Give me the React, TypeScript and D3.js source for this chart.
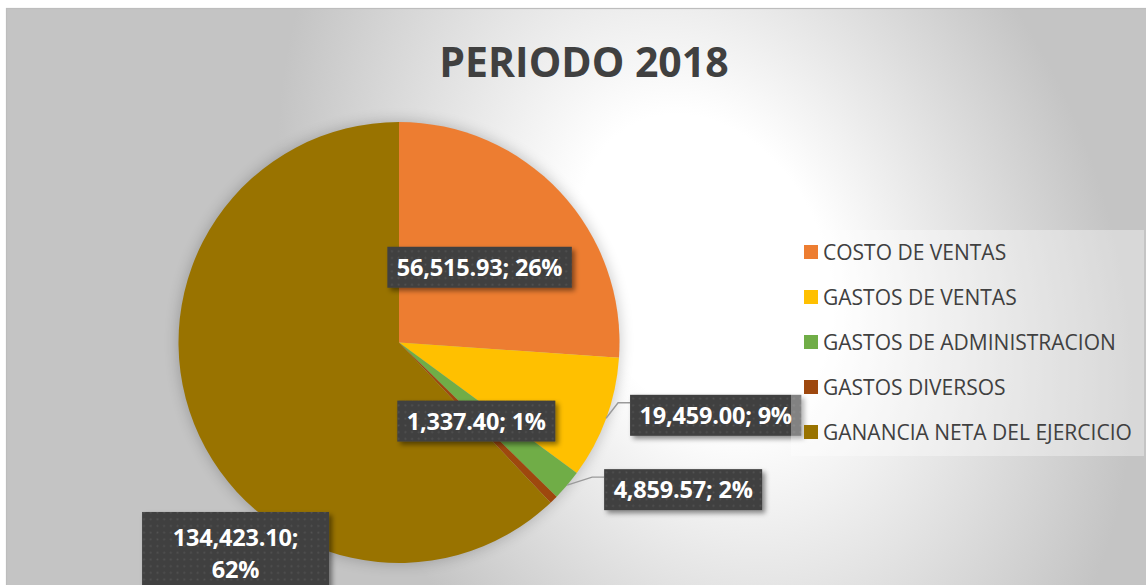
import React, { useEffect, useRef } from 'react';
import * as d3 from 'd3';

const categories = [
  'COSTO DE VENTAS',
  'GASTOS DE VENTAS',
  'GASTOS DE ADMINISTRACION',
  'GASTOS DIVERSOS',
  'GANANCIA NETA DEL EJERCICIO',
];
const values = [56515.93, 19459.0, 4859.57, 1337.4, 134423.1];
const colors = ['#ED7D31', '#FFC000', '#70AD47', '#9E480E', '#997300'];
const chartTitle = 'PERIODO 2018';

// label placement style per slice (Excel "best fit" result)
const labelPlacement: any[] = [
  { mode: 'inside', rf: 0.5 },
  { mode: 'outside', dx: 24, dy: -23.5 },
  { mode: 'outside', dx: 37, dy: -16 },
  { mode: 'inside', rf: 0.5 },
  { mode: 'wrapped', angle: 217.7, rf: 1.212, width: 187 },
];

const W = 1146;
const H = 585;
const CX = 399;
const CY = 342.5;
const R = 220.5;
const FONT = "'Open Sans', 'DejaVu Sans', sans-serif";

export default function App() {
  const ref = useRef<SVGSVGElement | null>(null);

  useEffect(() => {
    const svg = d3.select(ref.current);
    svg.selectAll('*').remove();
    const defs = svg.append('defs');

    const grad = defs
      .append('radialGradient')
      .attr('id', 'bg')
      .attr('gradientUnits', 'userSpaceOnUse')
      .attr('cx', 0)
      .attr('cy', 0)
      .attr('r', 1)
      .attr('gradientTransform', 'translate(705,270) rotate(65.5) scale(540,400)');
    grad.append('stop').attr('offset', 0).attr('stop-color', '#ffffff');
    grad.append('stop').attr('offset', 0.3).attr('stop-color', '#ffffff');
    grad.append('stop').attr('offset', 1).attr('stop-color', '#c4c4c4');

    const pat = defs
      .append('pattern')
      .attr('id', 'dots')
      .attr('patternUnits', 'userSpaceOnUse')
      .attr('width', 6.7)
      .attr('height', 6.7);
    pat.append('rect').attr('width', 6.7).attr('height', 6.7).attr('fill', '#404040');
    pat.append('rect').attr('x', 2.5).attr('y', 2.5).attr('width', 1.7).attr('height', 1.7).attr('fill', '#545454');

    const sh = defs.append('filter').attr('id', 'boxShadow').attr('x', '-20%').attr('y', '-30%').attr('width', '150%').attr('height', '180%');
    sh.append('feDropShadow').attr('dx', 3).attr('dy', 3).attr('stdDeviation', 2.5).attr('flood-color', '#000').attr('flood-opacity', 0.45);

    const halo = defs.append('filter').attr('id', 'halo').attr('x', '-20%').attr('y', '-20%').attr('width', '140%').attr('height', '140%');
    halo.append('feGaussianBlur').attr('stdDeviation', 7);

    // chart area
    svg.append('rect').attr('width', W).attr('height', H).attr('fill', '#ffffff');
    svg
      .append('rect')
      .attr('x', 6.5)
      .attr('y', 8.5)
      .attr('width', W + 10)
      .attr('height', H + 10)
      .attr('fill', 'url(#bg)')
      .attr('stroke', '#bdbdbd')
      .attr('stroke-width', 1.2);

    // title
    svg
      .append('text')
      .attr('x', 584)
      .attr('y', 77)
      .attr('text-anchor', 'middle')
      .attr('font-family', FONT)
      .attr('font-weight', 700)
      .attr('font-size', 41)
      .attr('fill', '#404040')
      .text(chartTitle);

    // pie
    const total = d3.sum(values);
    const pie = d3.pie<number>().sort(null).value((d) => d);
    const arcs = pie(values);
    const arc = d3.arc<d3.PieArcDatum<number>>().innerRadius(0).outerRadius(R);

    svg
      .append('circle')
      .attr('cx', CX)
      .attr('cy', CY)
      .attr('r', R + 1)
      .attr('fill', '#000')
      .attr('opacity', 0.2)
      .attr('filter', 'url(#halo)');

    const g = svg.append('g').attr('transform', `translate(${CX},${CY})`);
    g.selectAll('path.slice')
      .data(arcs)
      .enter()
      .append('path')
      .attr('class', 'slice')
      .attr('d', arc as any)
      .attr('fill', (_d, i) => colors[i]);

    // labels
    const fmtNum = d3.format(',.2f');
    const fmtPct = d3.format('.0%');
    const FS = 23.5;
    const BOX_H = 41;
    const PAD = 9.5;

    const pt = (angleRad: number, r: number) => [Math.sin(angleRad) * r, -Math.cos(angleRad) * r];

    arcs.forEach((a, i) => {
      const p = labelPlacement[i];
      const mid = (a.startAngle + a.endAngle) / 2;
      const numTxt = fmtNum(values[i]) + ';';
      const pctTxt = fmtPct(values[i] / total);
      const lg = svg.append('g');
      const box = lg.append('rect').attr('fill', 'url(#dots)').attr('filter', 'url(#boxShadow)');
      const mk = (s: string) =>
        lg
          .append('text')
          .attr('font-family', FONT)
          .attr('font-weight', 700)
          .attr('font-size', FS)
          .attr('letter-spacing', -0.2)
          .attr('fill', '#ffffff')
          .attr('text-anchor', 'middle')
          .text(s);

      if (p.mode === 'wrapped') {
        const [x, y] = pt((p.angle * Math.PI) / 180, R * p.rf);
        const cx = CX + x;
        const cy = CY + y;
        const lineGap = 32;
        const h = 84;
        box.attr('x', cx - p.width / 2).attr('y', cy - h / 2).attr('width', p.width).attr('height', h);
        mk(numTxt).attr('x', cx).attr('y', cy - lineGap / 2 + FS * 0.36);
        mk(pctTxt).attr('x', cx).attr('y', cy + lineGap / 2 + FS * 0.36);
        return;
      }

      const t = mk(numTxt + ' ' + pctTxt);
      const tw = (t.node() as SVGTextElement).getComputedTextLength();
      const bw = tw + PAD * 2;
      let bx: number;
      let by: number;
      if (p.mode === 'inside') {
        const [x, y] = pt(mid, R * p.rf);
        bx = CX + x - bw / 2;
        by = CY + y - BOX_H / 2;
      } else {
        const [ex, ey] = pt(mid, R);
        const edgeX = CX + ex;
        const edgeY = CY + ey;
        bx = edgeX + p.dx;
        by = edgeY + p.dy;
        svg
          .insert('polyline', () => lg.node() as any)
          .attr('points', `${edgeX},${edgeY} ${bx - 12},${by + 8} ${bx},${by + 8}`)
          .attr('fill', 'none')
          .attr('stroke', '#9a9a9a')
          .attr('stroke-width', 1.4);
      }
      box.attr('x', bx).attr('y', by).attr('width', bw).attr('height', BOX_H);
      t.attr('x', bx + bw / 2).attr('y', by + BOX_H / 2 + FS * 0.36);
    });

    // legend
    svg
      .append('rect')
      .attr('x', 791)
      .attr('y', 230)
      .attr('width', 353)
      .attr('height', 226)
      .attr('fill', '#ffffff')
      .attr('opacity', 0.35);
    categories.forEach((c, i) => {
      const cy = 252 + i * 45;
      svg.append('rect').attr('x', 804).attr('y', cy - 7).attr('width', 14).attr('height', 14).attr('fill', colors[i]);
      svg
        .append('text')
        .attr('x', 823)
        .attr('y', cy + 7.5)
        .attr('font-family', FONT)
        .attr('font-size', 21)
        .attr('fill', '#404040')
        .text(c);
    });
  }, []);

  return (
    <svg
      ref={ref}
      width={W}
      height={H}
      style={{ position: 'absolute', left: 0, top: 0, display: 'block' }}
    />
  );
}
